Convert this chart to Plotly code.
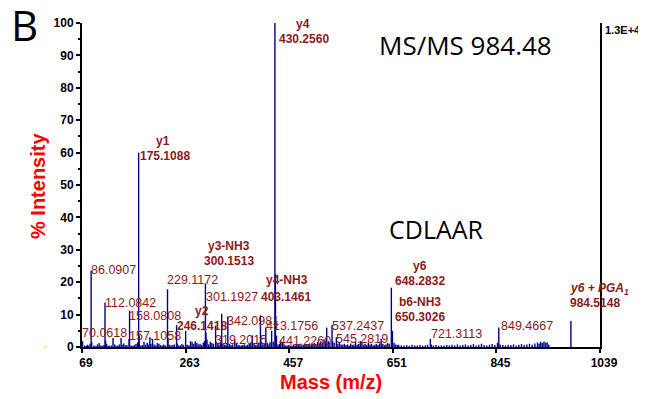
import plotly.graph_objects as go

# ---- data: peak list (m/z, % intensity) ----
mz = [70.0618, 74.1, 77.0, 79.1, 81.1, 84.1, 86.0907, 87.09, 91.1, 95.1, 98.1, 101.1, 104.1, 107.1, 110.1,
      112.0842, 113.08, 115.1, 118.1, 120.1, 124.1, 127.1, 130.1, 133.1, 136.1, 139.1, 142.1, 144.1, 147.1,
      150.1, 153.1, 157.1058, 158.0808, 161.1, 164.1, 167.1, 170.1, 173.1, 175.1088, 176.1, 179.1, 182.1,
      185.1, 188.1, 191.1, 194.1, 196.1, 198.1, 201.1, 204.1, 207.1, 210.1, 213.1, 216.1, 219.1, 222.1,
      225.1, 229.1172, 230.1, 233.1, 236.1, 239.1, 242.1, 246.1418, 247.1, 250.1, 253.1, 256.1, 259.1,
      263.1, 266.1, 269.1, 272.1, 275.1, 278.1, 281.1, 284.1, 287.1, 290.1, 293.1, 296.1, 298.1, 300.1513,
      301.1927, 303.1, 306.1, 309.1, 312.1, 315.1, 319.2015, 322.1, 325.1, 328.1, 330.6, 333.1, 336.1,
      339.1, 342.0981, 345.1, 348.1, 351.1, 355.1, 358.1, 361.1, 364.1, 367.1, 370.1, 373.1, 376.1, 379.1,
      382.1, 385.1, 388.1, 391.1, 394.1, 397.1, 400.1, 403.1461, 404.1, 407.1, 410.1, 413.1756, 416.1,
      419.1, 421.1, 424.1, 427.1, 430.2560, 431.26, 433.2, 436.2, 439.2, 441.2260, 444.2, 447.2, 450.2,
      453.2, 456.2, 459.2, 462.2, 465.2, 468.2, 471.2, 474.2, 477.2, 480.2, 483.2, 486.2, 489.2, 492.2,
      495.2, 498.2, 501.2, 504.2, 507.2, 510.2, 513.2, 516.2, 519.2, 522.2, 525.2, 527.2, 530.2, 533.2,
      537.2437, 538.2, 541.2, 545.2819, 548.2, 551.2, 554.2, 557.2, 560.2, 563.2, 566.2, 569.2, 572.2,
      575.2, 578.2, 581.2, 584.2, 587.2, 590.2, 593.2, 596.2, 599.2, 602.2, 605.2, 608.2, 611.2, 614.2,
      617.2, 620.2, 623.2, 626.2, 629.2, 632.2, 635.2, 638.2, 641.2, 644.2, 648.2832, 649.3, 650.3026,
      653.3, 656.3, 659.3, 662, 667, 672, 677, 682, 687, 692, 697, 702, 707, 712, 716, 721.3113, 723, 727,
      732, 737, 742, 747, 752, 757, 762, 767, 772, 777, 782, 787, 792, 797, 802, 807, 812, 817, 822, 827,
      832, 837, 842, 847, 849.4667, 852, 857, 862, 867, 872, 877, 882, 887, 892, 897, 902, 907, 912, 917,
      922, 925, 928, 931, 934, 937, 940, 943, 984.5148]
intensity = [1.8, 0.5, 0.3, 0.7, 0.4, 1.0, 23.5, 1.5, 0.5, 0.4, 0.8, 1.2, 0.5, 0.4, 0.6,
             13.7, 2.0, 1.0, 0.3, 0.5, 0.5, 2.8, 0.8, 0.4, 0.5, 0.8, 2.8, 0.7, 1.1,
             0.5, 0.6, 2.5, 11.2, 0.5, 0.4, 0.6, 0.9, 1.4, 60.0, 3.5, 0.5, 0.6,
             1.6, 0.7, 1.3, 0.8, 3.0, 1.0, 2.5, 0.8, 0.5, 1.2, 1.0, 0.6, 0.5, 0.8,
             0.5, 17.8, 2.5, 0.7, 0.5, 0.6, 0.8, 6.8, 1.1, 0.5, 0.5, 0.9, 0.6,
             5.0, 0.7, 0.5, 1.8, 1.6, 1.0, 1.8, 1.3, 0.8, 1.0, 0.6, 1.2, 1.8, 19.6,
             4.4, 2.3, 0.8, 1.6, 1.2, 1.0, 6.6, 1.3, 0.8, 1.4, 10.3, 0.9, 0.7,
             0.8, 9.4, 1.0, 0.6, 0.8, 2.0, 1.2, 0.7, 0.5, 0.5, 0.6, 0.8, 0.5, 0.7,
             1.0, 1.4, 3.6, 1.2, 0.6, 0.8, 1.3, 9.8, 2.0, 0.8, 1.1, 6.0, 1.3,
             0.8, 1.5, 5.0, 1.6, 100.0, 22.5, 3.5, 0.8, 1.0, 2.0, 1.3, 0.8, 0.5,
             0.5, 0.6, 0.4, 0.5, 0.7, 0.5, 0.8, 0.6, 1.0, 0.5, 0.7, 0.9, 0.6, 0.8,
             1.1, 0.6, 1.0, 1.3, 0.8, 1.6, 1.1, 1.8, 1.3, 2.3, 1.6, 6.0, 1.8, 1.3,
             6.8, 1.8, 1.3, 3.0, 1.0, 1.3, 0.8, 0.7, 1.0, 0.6, 0.8, 0.5, 1.1,
             0.6, 0.8, 1.6, 0.7, 0.9, 1.8, 1.2, 0.7, 1.0, 0.6, 1.3, 0.8, 1.0, 0.5,
             0.7, 0.9, 0.6, 1.1, 2.5, 1.0, 0.6, 0.8, 1.3, 1.0, 18.3, 4.0, 5.0,
             1.3, 0.8, 0.6, 0.7, 0.5, 0.5, 0.6, 0.4, 0.7, 0.5, 0.5, 0.6, 0.4, 0.5, 0.7, 2.5, 0.8, 0.5,
             0.6, 0.4, 0.5, 0.5, 0.6, 0.5, 0.7, 0.5, 0.8, 0.5, 0.6, 0.8, 0.5, 0.6, 0.9, 0.5, 0.7, 1.0, 0.6, 0.5,
             0.7, 0.9, 0.6, 1.3, 6.0, 0.8, 0.6, 0.5, 0.7, 0.6, 0.8, 0.5, 0.7, 0.9, 0.6, 0.8, 1.0, 0.7, 1.1,
             1.4, 1.0, 1.6, 1.2, 1.7, 1.3, 1.5, 0.8, 8.0]

x_ticks = [69, 263, 457, 651, 845, 1039]
y_ticks = [0, 10, 20, 30, 40, 50, 60, 70, 80, 90, 100]

# fragment labels: (text, x m/z, y %, bold)
labels = [
    ("y4", 482.8, 99.7, True), ("430.2560", 483.8, 95.2, True),
    ("y1", 220.7, 63.6, True), ("175.1088", 223.9, 59.0, True),
    ("y3-NH3", 344.3, 31.3, True), ("300.1513", 344.8, 26.6, True),
    ("y4-NH3", 452.3, 20.7, True), ("403.1461", 451.9, 15.5, True),
    ("y2", 293.1, 11.1, True), ("246.1418", 293.7, 6.6, True),
    ("y6", 701.9, 25.0, True), ("648.2832", 701.9, 20.5, True),
    ("b6-NH3", 701.9, 14.0, True), ("650.3026", 701.9, 9.2, True),
    ("86.0907", 127.6, 23.8, False),
    ("112.0842", 159.8, 13.7, False),
    ("158.0808", 205.7, 9.7, False),
    ("70.0618", 110.2, 4.2, False),
    ("157.1058", 205.1, 3.4, False),
    ("229.1172", 276.3, 20.7, False),
    ("301.1927", 349.9, 15.5, False),
    ("342.0981", 388.3, 8.0, False),
    ("319.2015", 366.7, 2.2, False),
    ("413.1756", 461.7, 6.5, False),
    ("441.2260", 487.5, 1.9, False),
    ("537.2437", 585.5, 6.6, False),
    ("545.2819", 592.8, 2.4, False),
    ("721.3113", 769.4, 4.0, False),
    ("849.4667", 901.7, 6.5, False),
]

# ---- build stick spectrum ----
sx, sy = [], []
for m, h in zip(mz, intensity):
    sx += [m, m, None]
    sy += [0, h, None]

fig = go.Figure()
fig.add_trace(go.Scatter(x=sx, y=sy, mode="lines",
                         line=dict(color="#00008B", width=1.4),
                         hoverinfo="skip", showlegend=False))

ARIAL = "Liberation Sans, Arial, sans-serif"
CAL = "Open Sans, Noto Sans, sans-serif"
DARKRED = "#8B1A1A"

ann = []
for t, x, y, b in labels:
    ann.append(dict(x=x, y=y, xref="x", yref="y", text=(f"<b>{t}</b>" if b else t),
                    showarrow=False, xanchor="center", yanchor="middle",
                    font=dict(family=ARIAL, size=12.5 if not b else 12, color=DARKRED)))

# y6 + PGA1 (italic, left aligned)
ann.append(dict(x=979.1, y=17.8, xref="x", yref="y", text="<b><i>y6 + PGA<sub>1</sub></i></b>",
                showarrow=False, xanchor="left", yanchor="middle",
                font=dict(family=ARIAL, size=12, color=DARKRED)))
ann.append(dict(x=979.1, y=13.5, xref="x", yref="y", text="<b>984.5148</b>",
                showarrow=False, xanchor="left", yanchor="middle",
                font=dict(family=ARIAL, size=12, color=DARKRED)))

# page-pixel -> paper coordinates (plot area spans page px 82..600, 23..347)
def px(x):
    return (x - 82) / 518.0

def py(y):
    return (347 - y) / 324.0

ann += [
    dict(x=px(24), y=py(24), xref="paper", yref="paper", text="B", showarrow=False,
         xanchor="center", yanchor="middle", font=dict(family=CAL, size=42, color="black")),
    dict(x=px(465.5), y=py(45), xref="paper", yref="paper", text="MS/MS 984.48", showarrow=False,
         xanchor="center", yanchor="middle", font=dict(family=CAL, size=26, color="black")),
    dict(x=px(436), y=py(229), xref="paper", yref="paper", text="CDLAAR", showarrow=False,
         xanchor="center", yanchor="middle", font=dict(family=CAL, size=25, color="black")),
    dict(x=px(603), y=py(30), xref="paper", yref="paper", text="<b>1.3E+4</b>", showarrow=False,
         xanchor="left", yanchor="middle", font=dict(family=ARIAL, size=11, color="black")),
    dict(x=px(331), y=py(382), xref="paper", yref="paper", text="<b>Mass (m/z)</b>", showarrow=False,
         xanchor="center", yanchor="middle", font=dict(family=ARIAL, size=20, color="#FF0000")),
    dict(x=px(38), y=py(186), xref="paper", yref="paper", text="<b>% Intensity</b>", showarrow=False,
         textangle=-90, xanchor="center", yanchor="middle",
         font=dict(family=ARIAL, size=20, color="#FF0000")),
]

# the page body has an 8px margin, so the figure is made 8px smaller and offset
fig.update_layout(
    width=638, height=391,
    margin=dict(l=74, r=46, t=15, b=52, autoexpand=False),
    paper_bgcolor="white", plot_bgcolor="white",
    annotations=ann,
    shapes=[dict(type="rect", xref="paper", yref="paper", x0=px(44), x1=px(46), y0=py(348), y1=py(346),
                 fillcolor="#FFFF00", line=dict(width=0))],
    showlegend=False,
)
fig.update_xaxes(range=[69, 1039], tickvals=x_ticks, ticktext=[str(v) for v in x_ticks],
                 showgrid=False, zeroline=False, showline=True, linecolor="black", linewidth=2,
                 ticks="outside", ticklen=4, tickwidth=1.5, tickcolor="black", ticklabelshift=4,
                 tickfont=dict(family=ARIAL, size=12, color="black", weight="bold"))
fig.update_yaxes(range=[0, 100], tickvals=y_ticks, showgrid=False, zeroline=False,
                 showline=True, mirror=True, linecolor="black", linewidth=2,
                 ticks="outside", ticklen=4, tickwidth=1.5, tickcolor="black",
                 minor=dict(dtick=5, ticks="outside", ticklen=2, tickcolor="black"),
                 tickfont=dict(family=ARIAL, size=12, color="black", weight="bold"))

fig.write_html("out.html")
